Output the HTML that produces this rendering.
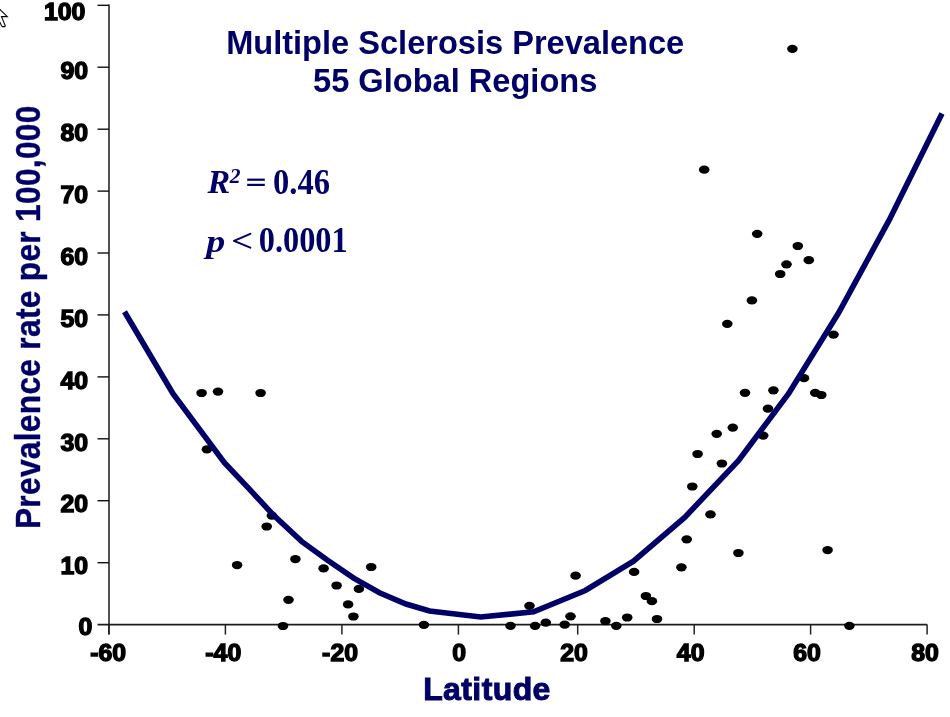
<!DOCTYPE html>
<html><head><meta charset="utf-8"><style>
html,body{margin:0;padding:0;background:#fff;}
body{width:950px;height:717px;overflow:hidden;position:relative;}
svg{position:absolute;left:0;top:0;will-change:transform;}
.tk{font-family:"Liberation Sans",sans-serif;font-weight:bold;font-size:23px;fill:#000;stroke:#000;stroke-width:1.3px;}
.ttl{font-family:"Liberation Sans",sans-serif;font-weight:bold;font-size:32.6px;fill:#000066;}
.lab{font-family:"Liberation Sans",sans-serif;font-weight:bold;font-size:32px;fill:#000066;}
.ser{font-family:"Liberation Serif",serif;font-weight:bold;font-size:32.5px;fill:#000066;}
</style></head><body>
<svg width="950" height="717" viewBox="0 0 950 717">
<line x1="109" y1="4.5" x2="109" y2="634.6" stroke="#333" stroke-width="1.7"/>
<line x1="97.5" y1="624.6" x2="927.1" y2="624.6" stroke="#1c1c1c" stroke-width="1.7"/>
<line x1="97.5" y1="562.7" x2="109" y2="562.7" stroke="#111" stroke-width="1.4"/>
<line x1="97.5" y1="500.7" x2="109" y2="500.7" stroke="#111" stroke-width="1.4"/>
<line x1="97.5" y1="438.8" x2="109" y2="438.8" stroke="#111" stroke-width="1.4"/>
<line x1="97.5" y1="376.9" x2="109" y2="376.9" stroke="#111" stroke-width="1.4"/>
<line x1="97.5" y1="314.9" x2="109" y2="314.9" stroke="#111" stroke-width="1.4"/>
<line x1="97.5" y1="253.0" x2="109" y2="253.0" stroke="#111" stroke-width="1.4"/>
<line x1="97.5" y1="191.1" x2="109" y2="191.1" stroke="#111" stroke-width="1.4"/>
<line x1="97.5" y1="129.2" x2="109" y2="129.2" stroke="#111" stroke-width="1.4"/>
<line x1="97.5" y1="67.2" x2="109" y2="67.2" stroke="#111" stroke-width="1.4"/>
<line x1="97.5" y1="5.3" x2="109" y2="5.3" stroke="#111" stroke-width="1.4"/>
<line x1="108.9" y1="624.6" x2="108.9" y2="634.6" stroke="#222" stroke-width="1.5"/>
<line x1="225.4" y1="624.6" x2="225.4" y2="634.6" stroke="#222" stroke-width="1.5"/>
<line x1="341.9" y1="624.6" x2="341.9" y2="634.6" stroke="#222" stroke-width="1.5"/>
<line x1="458.4" y1="624.6" x2="458.4" y2="634.6" stroke="#222" stroke-width="1.5"/>
<line x1="577.7" y1="624.6" x2="577.7" y2="634.6" stroke="#222" stroke-width="1.5"/>
<line x1="694.2" y1="624.6" x2="694.2" y2="634.6" stroke="#222" stroke-width="1.5"/>
<line x1="810.6" y1="624.6" x2="810.6" y2="634.6" stroke="#222" stroke-width="1.5"/>
<line x1="927.1" y1="624.6" x2="927.1" y2="634.6" stroke="#222" stroke-width="1.5"/>
<text transform="translate(92.2,635.3) scale(1.08,1)" text-anchor="end" class="tk">0</text>
<text transform="translate(88.1,574.4) scale(1.08,1)" text-anchor="end" class="tk">10</text>
<text transform="translate(88.1,512.4) scale(1.08,1)" text-anchor="end" class="tk">20</text>
<text transform="translate(88.1,450.5) scale(1.08,1)" text-anchor="end" class="tk">30</text>
<text transform="translate(88.1,388.6) scale(1.08,1)" text-anchor="end" class="tk">40</text>
<text transform="translate(88.1,326.6) scale(1.08,1)" text-anchor="end" class="tk">50</text>
<text transform="translate(88.1,264.7) scale(1.08,1)" text-anchor="end" class="tk">60</text>
<text transform="translate(88.1,202.8) scale(1.08,1)" text-anchor="end" class="tk">70</text>
<text transform="translate(88.1,140.9) scale(1.08,1)" text-anchor="end" class="tk">80</text>
<text transform="translate(88.1,78.9) scale(1.08,1)" text-anchor="end" class="tk">90</text>
<text transform="translate(85.4,19.5) scale(1.08,1)" text-anchor="end" class="tk">100</text>
<text transform="translate(108.15,660.9) scale(1.08,1)" text-anchor="middle" class="tk">-60</text>
<text transform="translate(223.25,660.9) scale(1.08,1)" text-anchor="middle" class="tk">-40</text>
<text transform="translate(340.05,660.9) scale(1.08,1)" text-anchor="middle" class="tk">-20</text>
<text transform="translate(459.10,660.9) scale(1.08,1)" text-anchor="middle" class="tk">0</text>
<text transform="translate(574.05,660.9) scale(1.08,1)" text-anchor="middle" class="tk">20</text>
<text transform="translate(690.65,660.9) scale(1.08,1)" text-anchor="middle" class="tk">40</text>
<text transform="translate(807.00,660.9) scale(1.08,1)" text-anchor="middle" class="tk">60</text>
<text transform="translate(925.00,660.9) scale(1.08,1)" text-anchor="middle" class="tk">80</text>
<ellipse cx="201.6" cy="393.0" rx="5.3" ry="4.1" fill="#000"/>
<ellipse cx="218.0" cy="391.6" rx="5.3" ry="4.1" fill="#000"/>
<ellipse cx="260.6" cy="393.0" rx="5.3" ry="4.1" fill="#000"/>
<ellipse cx="206.9" cy="449.3" rx="5.3" ry="4.1" fill="#000"/>
<ellipse cx="271.9" cy="515.6" rx="5.3" ry="4.1" fill="#000"/>
<ellipse cx="266.7" cy="526.5" rx="5.3" ry="4.1" fill="#000"/>
<ellipse cx="237.1" cy="565.1" rx="5.3" ry="4.1" fill="#000"/>
<ellipse cx="295.4" cy="559.1" rx="5.3" ry="4.1" fill="#000"/>
<ellipse cx="323.6" cy="568.4" rx="5.3" ry="4.1" fill="#000"/>
<ellipse cx="336.6" cy="585.5" rx="5.3" ry="4.1" fill="#000"/>
<ellipse cx="288.5" cy="599.8" rx="5.3" ry="4.1" fill="#000"/>
<ellipse cx="283.0" cy="626.0" rx="5.3" ry="4.1" fill="#000"/>
<ellipse cx="371.2" cy="567.0" rx="5.3" ry="4.1" fill="#000"/>
<ellipse cx="358.9" cy="588.9" rx="5.3" ry="4.1" fill="#000"/>
<ellipse cx="348.1" cy="604.4" rx="5.3" ry="4.1" fill="#000"/>
<ellipse cx="353.4" cy="616.5" rx="5.3" ry="4.1" fill="#000"/>
<ellipse cx="423.9" cy="624.8" rx="5.3" ry="4.1" fill="#000"/>
<ellipse cx="510.5" cy="625.8" rx="5.3" ry="4.1" fill="#000"/>
<ellipse cx="529.5" cy="605.8" rx="5.3" ry="4.1" fill="#000"/>
<ellipse cx="535.1" cy="625.8" rx="5.3" ry="4.1" fill="#000"/>
<ellipse cx="545.8" cy="622.6" rx="5.3" ry="4.1" fill="#000"/>
<ellipse cx="564.7" cy="624.7" rx="5.3" ry="4.1" fill="#000"/>
<ellipse cx="570.5" cy="616.3" rx="5.3" ry="4.1" fill="#000"/>
<ellipse cx="575.6" cy="575.7" rx="5.3" ry="4.1" fill="#000"/>
<ellipse cx="605.4" cy="621.1" rx="5.3" ry="4.1" fill="#000"/>
<ellipse cx="616.3" cy="625.8" rx="5.3" ry="4.1" fill="#000"/>
<ellipse cx="627.2" cy="617.5" rx="5.3" ry="4.1" fill="#000"/>
<ellipse cx="634.1" cy="571.9" rx="5.3" ry="4.1" fill="#000"/>
<ellipse cx="645.9" cy="596.0" rx="5.3" ry="4.1" fill="#000"/>
<ellipse cx="651.9" cy="601.2" rx="5.3" ry="4.1" fill="#000"/>
<ellipse cx="657.0" cy="619.0" rx="5.3" ry="4.1" fill="#000"/>
<ellipse cx="681.4" cy="567.3" rx="5.3" ry="4.1" fill="#000"/>
<ellipse cx="686.7" cy="539.3" rx="5.3" ry="4.1" fill="#000"/>
<ellipse cx="710.5" cy="514.4" rx="5.3" ry="4.1" fill="#000"/>
<ellipse cx="738.4" cy="553.0" rx="5.3" ry="4.1" fill="#000"/>
<ellipse cx="692.3" cy="486.5" rx="5.3" ry="4.1" fill="#000"/>
<ellipse cx="697.6" cy="454.0" rx="5.3" ry="4.1" fill="#000"/>
<ellipse cx="721.9" cy="463.5" rx="5.3" ry="4.1" fill="#000"/>
<ellipse cx="716.7" cy="433.8" rx="5.3" ry="4.1" fill="#000"/>
<ellipse cx="732.8" cy="427.6" rx="5.3" ry="4.1" fill="#000"/>
<ellipse cx="768.0" cy="408.7" rx="5.3" ry="4.1" fill="#000"/>
<ellipse cx="763.2" cy="435.6" rx="5.3" ry="4.1" fill="#000"/>
<ellipse cx="745.0" cy="392.8" rx="5.3" ry="4.1" fill="#000"/>
<ellipse cx="773.4" cy="390.3" rx="5.3" ry="4.1" fill="#000"/>
<ellipse cx="804.0" cy="378.2" rx="5.3" ry="4.1" fill="#000"/>
<ellipse cx="815.2" cy="392.8" rx="5.3" ry="4.1" fill="#000"/>
<ellipse cx="821.3" cy="395.0" rx="5.3" ry="4.1" fill="#000"/>
<ellipse cx="727.3" cy="323.8" rx="5.3" ry="4.1" fill="#000"/>
<ellipse cx="751.9" cy="300.4" rx="5.3" ry="4.1" fill="#000"/>
<ellipse cx="833.5" cy="334.6" rx="5.3" ry="4.1" fill="#000"/>
<ellipse cx="757.2" cy="233.8" rx="5.3" ry="4.1" fill="#000"/>
<ellipse cx="797.8" cy="246.0" rx="5.3" ry="4.1" fill="#000"/>
<ellipse cx="808.8" cy="260.2" rx="5.3" ry="4.1" fill="#000"/>
<ellipse cx="786.5" cy="264.3" rx="5.3" ry="4.1" fill="#000"/>
<ellipse cx="780.2" cy="274.0" rx="5.3" ry="4.1" fill="#000"/>
<ellipse cx="704.2" cy="169.7" rx="5.3" ry="4.1" fill="#000"/>
<ellipse cx="792.4" cy="48.8" rx="5.3" ry="4.1" fill="#000"/>
<ellipse cx="827.6" cy="550.1" rx="5.3" ry="4.1" fill="#000"/>
<ellipse cx="849.4" cy="625.8" rx="5.3" ry="4.1" fill="#000"/>
<polyline points="124.5,311.7 173.0,393.7 224.4,462.6 251.3,491.2 272.6,514.2 301.6,541.4 327.2,560 353.7,578.1 379.5,592.8 406,604 429.6,611.0 480.7,617.0 533.6,611.8 585.3,590.5 633.5,561.2 684.7,517.4 738.4,460.7 788.7,393.5 838.5,313 889.0,220.4 942,113.5" fill="none" stroke="#000066" stroke-width="5.6" stroke-linejoin="miter" stroke-linecap="butt"/>
<polyline points="-1,8.5 7.3,16.6 1.5,16.6 5.3,25.8 4.6,26.6 2.4,26.6 1.4,25.5 -0.5,21.5" fill="#fff" stroke="#000" stroke-width="1.1"/>
<text x="455.2" y="53.7" text-anchor="middle" class="ttl">Multiple Sclerosis Prevalence</text>
<text x="455.2" y="92.0" text-anchor="middle" class="ttl">55 Global Regions</text>
<text x="487" y="699.8" text-anchor="middle" class="lab" letter-spacing="0.4" style="stroke:#000066;stroke-width:1px">Latitude</text>
<text transform="translate(40.2,317.2) rotate(-90) scale(0.907,1)" x="0" y="0" text-anchor="middle" class="lab" style="font-size:35px;stroke:#000066;stroke-width:0.4px" letter-spacing="0.3">Prevalence rate per 100,000</text>
<text x="207.4" y="193.2" class="ser" font-style="italic" style="font-size:34px">R</text>
<text x="229.8" y="183.3" class="ser" font-style="italic" style="font-size:21.5px">2</text>
<rect x="247.2" y="178.6" width="17.6" height="2.2" fill="#000066"/>
<rect x="247.2" y="183.8" width="17.6" height="2.2" fill="#000066"/>
<text transform="translate(273.0,194.0) scale(0.93,1)" class="ser" style="font-size:35px">0.46</text>
<text transform="translate(206.3,251.8) scale(1.17,1)" class="ser" font-style="italic" style="font-size:32.5px">p</text>
<polyline points="250.3,233.9 234.0,240.9 250.3,247.6" fill="none" stroke="#000066" stroke-width="2.1" stroke-linecap="round" stroke-linejoin="round"/>
<text transform="translate(258.7,252.3) scale(0.925,1)" class="ser" style="font-size:35px">0.0001</text>
</svg>
</body></html>
